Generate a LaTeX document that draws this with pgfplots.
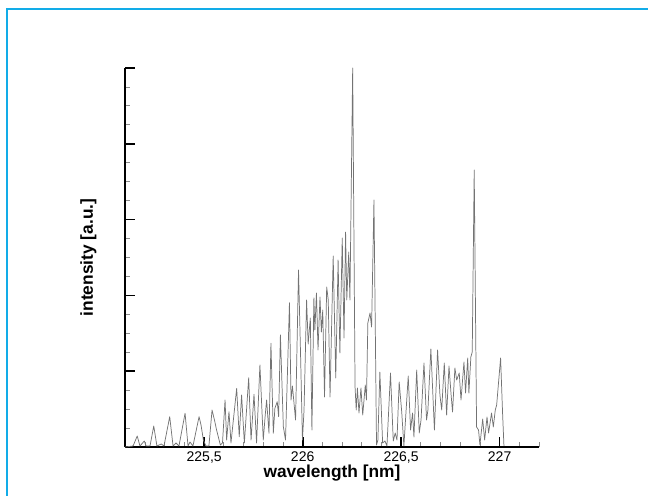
\documentclass[border=0pt]{standalone}
\usepackage{pgfplots}
\pgfplotsset{compat=1.18}
\usepackage{fontspec}
\setmainfont{Liberation Sans}
\definecolor{framecyan}{RGB}{18,172,232}
\begin{document}
\begin{tikzpicture}
\useasboundingbox (-93.75pt,-36pt) rectangle (392.25pt,335.25pt);
\draw[framecyan, line width=2pt] (-88.6pt,-40pt) -- (-88.6pt,328.6pt) -- (400pt,328.6pt);
\begin{axis}[
  at={(0,0)}, anchor=south west,
  scale only axis, width=310.5pt, height=284.25pt,
  xmin=225.098, xmax=227.2, ymin=0, ymax=5,
  axis x line=bottom, axis y line=left,
  axis line style={-, line width=1.3pt, black},
  tick align=inside,
  xtick={225.5,226,226.5,227},
  xticklabels={{225,5},{226},{226,5},{227}},
  minor xtick={225.2,225.3,225.4,225.6,225.7,225.8,225.9,226.1,226.2,226.3,226.4,226.6,226.7,226.8,226.9,227.1,227.2},
  ytick={0,1,2,3,4,5},
  minor ytick={0.25,0.5,0.75,1.25,1.5,1.75,2.25,2.5,2.75,3.25,3.5,3.75,4.25,4.5,4.75},
  yticklabel=\empty,
  major tick length=7.5pt, minor tick length=3.75pt,
  every major tick/.style={black, line width=1.3pt},
  every minor tick/.style={black!45, line width=0.6pt},
  x tick label style={anchor=base, yshift=-11pt, font=\fontsize{10.5}{12}\selectfont},
  xlabel={wavelength [nm]},
  ylabel={intensity [a.u.]},
  xlabel style={at={(axis description cs:0.5,-0.081)}, anchor=base, font=\fontsize{13}{15}\selectfont\bfseries},
  ylabel style={at={(axis description cs:-0.0773,0.5)}, anchor=base, rotate=0, font=\fontsize{13}{15}\selectfont\bfseries},
  clip=false,
]
\addplot[black!55, line width=0.55pt, mark=none, line join=round] coordinates {
(225.098,0) (225.139,0.013) (225.160,0.145) (225.174,0.013) (225.196,0.079) (225.205,0.013)
(225.225,0.013) (225.244,0.277) (225.260,0.013) (225.282,0.040) (225.296,0.013) (225.325,0.400)
(225.342,0.013) (225.357,0.053) (225.372,0.013) (225.403,0.445) (225.418,0.013) (225.428,0.066)
(225.443,0.013) (225.474,0.400) (225.484,0.290) (225.496,0.092) (225.509,0.013) (225.524,0.013)
(225.540,0.488) (225.553,0.347) (225.563,0.224) (225.582,0.026) (225.593,0.053) (225.606,0.620)
(225.614,0.092) (225.626,0.466) (225.636,0.053) (225.665,0.774) (225.678,0.136) (225.690,0.686)
(225.704,0.053) (225.726,0.914) (225.738,0.092) (225.753,0.695) (225.766,0.053) (225.783,1.082)
(225.800,0.092) (225.810,0.422) (225.817,0.620) (225.829,0.181) (225.839,1.368) (225.851,0.181)
(225.859,0.511) (225.871,0.598) (225.878,0.400) (225.887,1.478) (225.902,0.268) (225.913,0.092)
(225.933,1.904) (225.941,0.620) (225.948,0.805) (225.964,0.356) (225.979,2.335) (225.990,1.148)
(225.999,0.092) (226.007,0.488) (226.020,1.939) (226.028,1.359) (226.039,1.702) (226.047,0.224)
(226.057,1.966) (226.062,1.544) (226.070,2.032) (226.078,1.280) (226.088,1.979) (226.095,1.517)
(226.102,1.807) (226.111,0.660) (226.122,2.111) (226.130,1.939) (226.139,0.660) (226.155,2.520)
(226.168,0.910) (226.180,2.467) (226.189,1.240) (226.201,2.757) (226.210,1.438) (226.218,2.836)
(226.224,1.939) (226.234,2.573) (226.240,1.939) (226.254,5.000) (226.266,0.796) (226.272,0.488)
(226.278,0.778) (226.286,0.449) (226.296,0.778) (226.305,0.422) (226.318,0.818) (226.324,0.620)
(226.331,1.636) (226.342,1.768) (226.350,1.583) (226.362,3.259) (226.375,0.026) (226.382,0.092)
(226.392,0.989) (226.406,0.053) (226.418,0.079) (226.428,0.013) (226.446,0.976) (226.460,0.079)
(226.470,0.185) (226.479,0.092) (226.490,0.858) (226.503,0.462) (226.514,0.013) (226.536,0.937)
(226.548,0.224) (226.558,0.449) (226.565,0.132) (226.579,1.016) (226.592,0.185) (226.601,0.356)
(226.616,1.108) (226.629,0.356) (226.636,0.488) (226.651,1.293) (226.669,0.224) (226.685,1.280)
(226.697,0.686) (226.706,0.488) (226.719,1.108) (226.731,0.422) (226.743,1.069) (226.753,0.712)
(226.761,0.462) (226.773,1.042) (226.782,0.884) (226.795,0.976) (226.804,0.620) (226.819,1.121)
(226.827,0.712) (226.838,1.174) (226.844,0.712) (226.854,1.187) (226.861,1.253) (226.871,3.654)
(226.883,0.264) (226.893,0.224) (226.900,0.026) (226.914,0.369) (226.924,0.092) (226.936,0.396)
(226.944,0.185) (226.959,0.449) (226.968,0.264) (226.978,0.488) (226.985,0.554) (227.005,1.174)
(227.015,0.449) (227.022,0.013)
};
\end{axis}
\end{tikzpicture}
\end{document}
